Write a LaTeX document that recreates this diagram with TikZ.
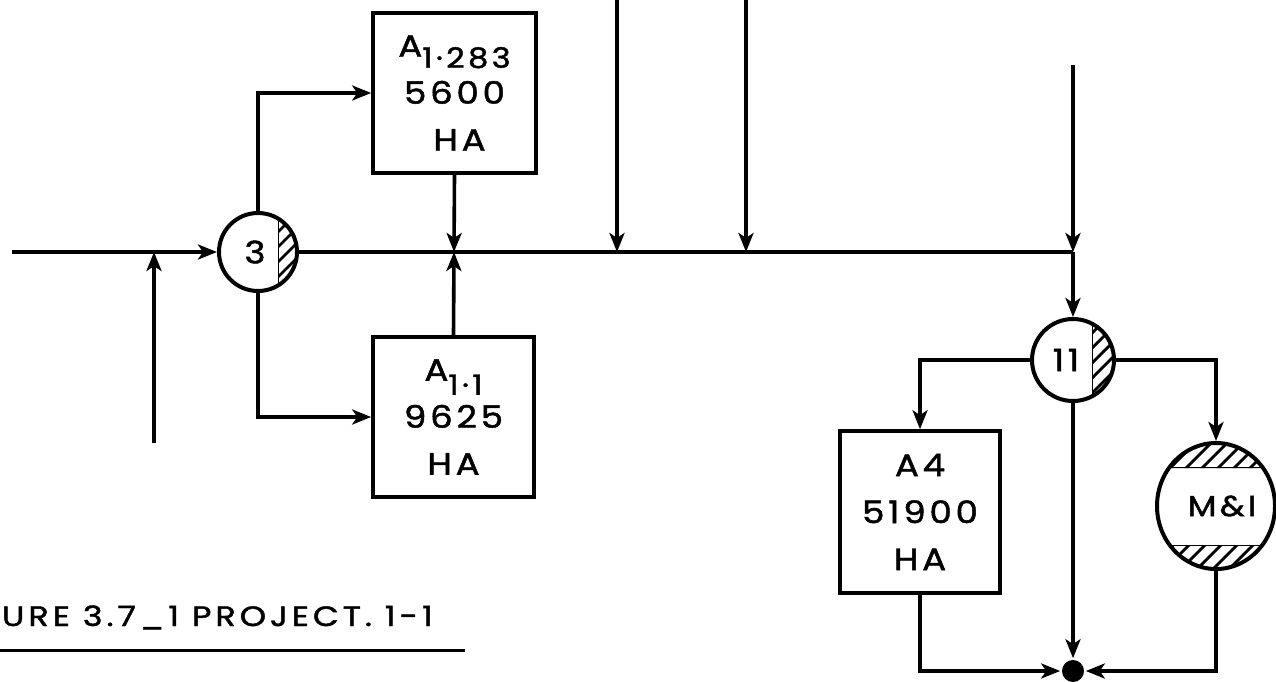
\documentclass[tikz,border=0pt]{standalone}
\usepackage{fontspec}
\setmainfont{Poppins}
\newfontfamily\hand[FakeStretch=1.15,LetterSpace=12,FakeBold=1.5]{Poppins}
\newfontfamily\capfont[FakeStretch=1.2,LetterSpace=14,FakeBold=1.5]{Poppins}
\usetikzlibrary{arrows.meta,shapes.geometric,calc}
\begin{document}
\begin{tikzpicture}[x=1pt,y=-1pt,line width=3.6pt,
  arr/.style={-{Stealth[length=19pt,width=15pt,inset=5pt]}},
  blk/.style={draw,rectangle,inner sep=0pt,align=center,
    font=\hand\fontsize{31}{47}\selectfont},
  sw/.style={draw,circle,inner sep=0pt,line width=4pt,
    font=\hand\fontsize{31}{31}\selectfont},
  hatch/.style={line width=2.8pt}
]
\useasboundingbox (0,0) rectangle (1276,681);

% nodes
\node[sw,minimum size=78pt] (c3) at (258,252) {\hspace*{-6pt}3};
\node[blk,minimum width=163pt,minimum height=160pt] (b1) at (454.5,93)
  {A\smash{\raisebox{-11pt}{\fontsize{28}{28}\selectfont 1·283}}\\5600\\\hspace*{10pt}HA};
\node[blk,minimum width=161pt,minimum height=160pt] (b2) at (453.5,417)
  {A\smash{\raisebox{-14pt}{\fontsize{28}{28}\selectfont 1·1}}\\9625\\HA};
\node[sw,minimum size=82pt] (c11) at (1073,360) {\hspace*{-14pt}11};
\node[blk,minimum width=160pt,minimum height=162pt] (b3) at (920,512)
  {A4\\51900\\HA};
\node[draw,ellipse,inner sep=0pt,line width=4pt,minimum width=118pt,minimum height=126pt,
  font=\hand\fontsize{29}{29}\selectfont] (mi) at (1216,506) {\hspace*{12pt}M\&I};
\node[circle,fill,inner sep=0pt,minimum size=22pt] (dot) at (1073,671) {};

% hatching of circle 3
\begin{scope}
  \clip (258,252) circle[radius=39pt];
  \clip (278,200) rectangle (300,300);
  \foreach \k in {0,15,...,180} \draw[hatch] (250,170+\k) -- ++(80,-80);
  \draw[hatch] (278,200) -- (278,300);
\end{scope}
% hatching of circle 11
\begin{scope}
  \clip (1073,360) circle[radius=41pt];
  \clip (1092,310) rectangle (1120,410);
  \foreach \k in {0,15,...,180} \draw[hatch] (1070,280+\k) -- ++(80,-80);
  \draw[hatch] (1092,310) -- (1092,410);
\end{scope}
% hatching of M&I
\begin{scope}
  \clip (1216,506) ellipse[x radius=59pt,y radius=63pt];
  \clip (1150,430) rectangle (1280,468) (1150,545) rectangle (1280,580);
  \foreach \k in {0,16,...,400} \draw[hatch] (1000,430+\k) -- ++(300,-300);
  \draw[hatch] (1150,468) -- (1280,468);
  \draw[hatch] (1150,545) -- (1280,545);
\end{scope}

% coordinates
\coordinate (in0) at (12,252);
\coordinate (s0) at (154,443);
\coordinate (j0) at (154,252);
\coordinate (j1) at (454,252);
\coordinate (t1) at (617,0);
\coordinate (j2) at (617,252);
\coordinate (t2) at (746,0);
\coordinate (j3) at (746,252);
\coordinate (t3) at (1073,65);
\coordinate (jr) at (1073,252);

% connectors
\draw[arr] (in0) -- (c3.west);
\draw[arr] (s0) -- (j0);
\draw (c3.east) -- (jr);
\draw[arr] (c3.north) |- (b1.west);
\draw[arr] (c3.south) |- (b2.west);
\draw[arr] (b1.south) -- (j1);
\draw[arr] (b2.north) -- (j1);
\draw[arr] (t1) -- (j2);
\draw[arr] (t2) -- (j3);
\draw[arr] (t3) -- (jr);
\draw[arr] (jr) -- (c11.north);
\draw[arr] (c11.west) -| (b3.north);
\draw[arr] (c11.east) -| (mi.north);
\draw[arr] (c11.south) -- (dot.north);
\draw[arr] (b3.south) |- (dot.west);
\draw[arr] (mi.south) |- (dot.east);

% caption
\node[anchor=base west,inner sep=0pt,font=\capfont\fontsize{28}{28}\selectfont] (cap) at (0,626)
  {URE 3.7\_1 PROJECT. 1-1};
\coordinate (u1) at (0,650);
\coordinate (u2) at (465,650);
\draw[line width=3pt] (u1) -- (u2);
\end{tikzpicture}
\end{document}
